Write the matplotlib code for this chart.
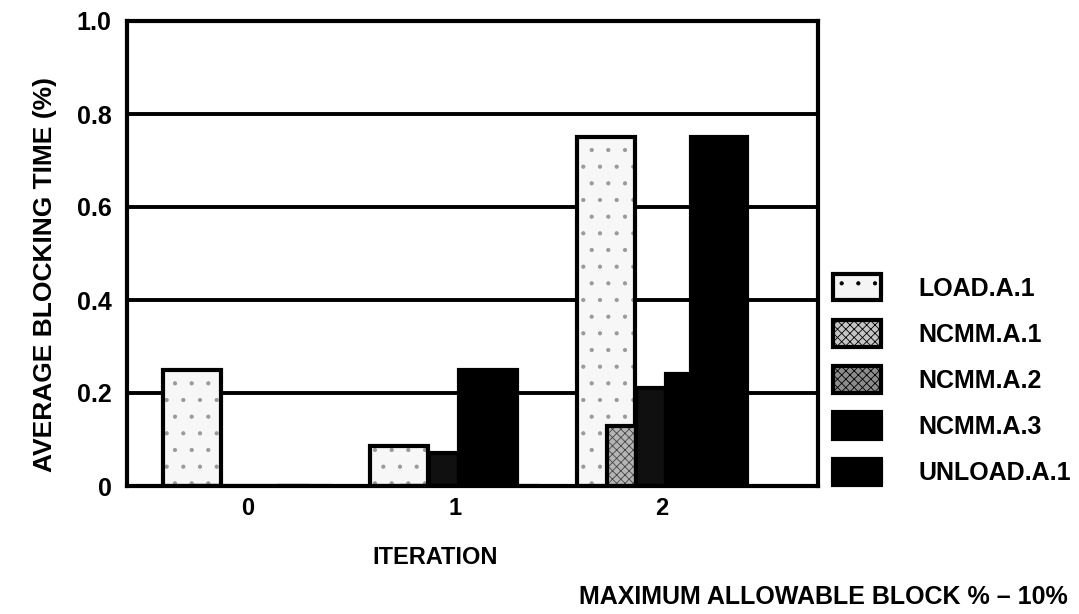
import matplotlib
matplotlib.use("Agg")
import matplotlib.pyplot as plt
from matplotlib.patches import Patch
import numpy as np

plt.rcParams['font.family'] = ['Liberation Sans', 'DejaVu Sans']
plt.rcParams['font.weight'] = 'bold'
plt.rcParams['hatch.linewidth'] = 0.6

# Data
iterations = ["0", "1", "2"]
series_names = ["LOAD.A.1", "NCMM.A.1", "NCMM.A.2", "NCMM.A.3", "UNLOAD.A.1"]
load_a1 = [0.25, 0.085, 0.75]
ncmm_a1 = [0.0, 0.0, 0.13]
ncmm_a2 = [0.0, 0.07, 0.21]
ncmm_a3 = [0.0, 0.25, 0.24]
unload_a1 = [0.0, 0.0, 0.75]
y_ticks = [0, 0.2, 0.4, 0.6, 0.8, 1.0]
y_tick_labels = ["0", "0.2", "0.4", "0.6", "0.8", "1.0"]

values = [load_a1, ncmm_a1, ncmm_a2, ncmm_a3, unload_a1]

# Bar layout within each group: (left offset from group centre, width), drawn back to front
layout = [(-0.411, 0.280), (-0.266, 0.140), (-0.126, 0.145), (0.019, 0.280), (0.140, 0.271)]
fills = [
    dict(facecolor="#f7f7f7", hatch_color="#9a9a9a", hatch="."),
    dict(facecolor="#b5b5b5", hatch_color="#444444", hatch="xxxx"),
    dict(facecolor="#101010", hatch_color="#101010", hatch=None),
    dict(facecolor="black", hatch_color="black", hatch=None),
    dict(facecolor="black", hatch_color="black", hatch=None),
]
legend_fills = [
    dict(facecolor="#f4f4f4", hatch="."),
    dict(facecolor="#c4c4c4", hatch="xxxx"),
    dict(facecolor="#8c8c8c", hatch="xxxx"),
    dict(facecolor="black", hatch=None),
    dict(facecolor="black", hatch=None),
]

fig = plt.figure(figsize=(10.79, 6.14), dpi=100)
ax = fig.add_axes([127 / 1079, 1 - 486 / 614, 691 / 1079, 465 / 614])

x = np.arange(len(iterations))
for i, (vals, (off, w), f) in enumerate(zip(values, layout, fills)):
    z = 3 + i
    ax.bar(x + off, vals, width=w, align="edge", color=f["facecolor"],
           edgecolor=f["hatch_color"], hatch=f["hatch"], linewidth=0, zorder=z)
    ax.bar(x + off, vals, width=w, align="edge", fill=False,
           edgecolor="black", linewidth=3, zorder=z + 0.5)

ax.set_xlim(-0.585, 2.754)
ax.set_ylim(0, 1.0)
ax.set_yticks(y_ticks)
ax.set_yticklabels(y_tick_labels, fontsize=18, fontweight="bold")
ax.set_xticks(x)
ax.set_xticklabels(iterations, fontsize=17, fontweight="bold")
ax.tick_params(axis="both", length=0)
ax.tick_params(axis="y", pad=11)
ax.tick_params(axis="x", pad=8)
for yv in y_ticks[1:]:
    ax.axhline(yv, color="black", linewidth=2.8, zorder=1)
for s in ax.spines.values():
    s.set_linewidth(3)
    s.set_zorder(20)

fig.text(45 / 1079, 1 - 275 / 614, "AVERAGE BLOCKING TIME (%)", rotation=90,
         ha="center", va="center", fontsize=19, fontweight="bold")
fig.text(435 / 1079, 1 - 557 / 614, "ITERATION", ha="center", va="center",
         fontsize=17, fontweight="bold")
fig.text(1068 / 1079, 1 - 597 / 614, "MAXIMUM ALLOWABLE BLOCK % \u2013 10%",
         ha="right", va="center", fontsize=18, fontweight="bold")

handles = [Patch(linewidth=3, edgecolor="black", **lf) for lf in legend_fills]
leg = fig.legend(handles, series_names, loc="upper left",
                 bbox_to_anchor=(833 / 1079, 1 - 274 / 614), frameon=False,
                 fontsize=18, handlelength=1.9, handleheight=1.25,
                 labelspacing=0.78, handletextpad=1.5, borderpad=0, borderaxespad=0)
for t in leg.get_texts():
    t.set_fontweight("bold")

fig.savefig("out.png", dpi=100)
